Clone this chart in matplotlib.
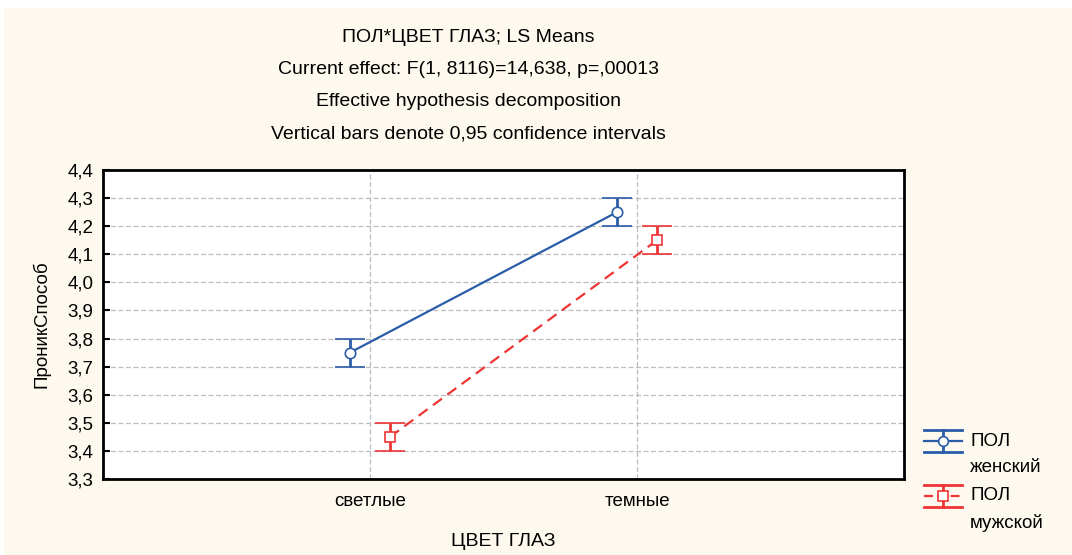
#!/usr/bin/env python3

import matplotlib.pyplot as plt
from matplotlib.patches import Rectangle
from matplotlib.ticker import FuncFormatter

plt.rcParams['font.family'] = ['Liberation Sans', 'DejaVu Sans']

# данные
categories = ['светлые', 'темные']
female_means = [3.75, 4.25]
female_ci = [0.05, 0.05]
male_means = [3.45, 4.15]
male_ci = [0.05, 0.05]
legend_labels = [('ПОЛ', 'женский'), ('ПОЛ', 'мужской')]
titles = ['ПОЛ*ЦВЕТ ГЛАЗ; LS Means',
          'Current effect: F(1, 8116)=14,638, p=,00013',
          'Effective hypothesis decomposition',
          'Vertical bars denote 0,95 confidence intervals']

blue = '#2a5ca8'
red = '#ee3535'
cream = '#fdf9ee'
W, H = 1072, 555


def legend_entry(lax, y, color, marker, ls, text):
    # значок как в Statistica: две широкие "шапки" и стержень
    x0, x1, xc = 924, 962, 943
    lax.plot([x0, x1], [y - 11, y - 11], color=color, lw=2)
    lax.plot([x0, x1], [y + 11, y + 11], color=color, lw=2)
    lax.plot([xc, xc], [y - 11, y + 11], color=color, lw=2)
    lax.plot([x0, x1], [y, y], color=color, lw=1.6, ls=ls)
    lax.plot([xc], [y], marker=marker, ms=7 if marker == 'o' else 6.5,
             mfc='white', mec=color, mew=1.2, ls='none')
    lax.text(970, y, text[0], ha='left', va='center', fontsize=13.5)
    lax.text(970, y + 27, text[1], ha='left', va='center', fontsize=13.5)


def main():
    fig = plt.figure(figsize=(W / 100, H / 100), dpi=100, facecolor='white')
    fig.patches.append(Rectangle((4 / W, 0), 1, 1 - 8 / H,
                                 transform=fig.transFigure, facecolor=cream,
                                 edgecolor='none', zorder=-10))

    ax = fig.add_axes([103 / W, 76 / H, 801 / W, 309 / H])
    ax.set_facecolor('white')

    xs = list(range(len(categories)))
    off = 0.075
    xf = [x - off for x in xs]
    xm = [x + off for x in xs]

    ax.errorbar(xf, female_means, yerr=female_ci, color=blue, lw=1.6,
                marker='o', ms=7.5, mfc='white', mec=blue, mew=1.2,
                capsize=10.5, capthick=2, elinewidth=2, zorder=3)
    hm = ax.errorbar(xm, male_means, yerr=male_ci, color=red, lw=1.6, ls=(0, (5, 3)),
                     marker='s', ms=6.5, mfc='white', mec=red, mew=1.2,
                     capsize=10.5, capthick=2, elinewidth=2, zorder=3)
    hm[2][0].set_linestyle('-')

    ax.set_xlim(-1.0, 2.0)
    ax.set_ylim(3.3, 4.4)
    ax.set_yticks([3.3 + 0.1 * i for i in range(12)])
    ax.yaxis.set_major_formatter(FuncFormatter(lambda v, p: f'{v:.1f}'.replace('.', ',')))
    ax.set_xticks(xs)
    ax.set_xticklabels(categories)
    ax.tick_params(axis='y', labelsize=13.5, length=5, width=1.5, direction='in', pad=7)
    ax.tick_params(axis='x', labelsize=13.5, length=0, pad=10)
    ax.grid(True, color='#bdbdbd', ls=(0, (4, 2)), lw=0.9)
    for s in ax.spines.values():
        s.set_linewidth(2)

    ax.set_xlabel('ЦВЕТ ГЛАЗ', fontsize=14, labelpad=17)
    ax.set_ylabel('ПроникСпособ', fontsize=13.5, labelpad=12)

    for i, t in enumerate(titles):
        fig.text(468 / W, 1 - (38 + 32 * i) / H, t, ha='center', va='center',
                 fontsize=14)

    # легенда справа
    lax = fig.add_axes([0, 0, 1, 1], facecolor='none')
    lax.set_xlim(0, W)
    lax.set_ylim(H, 0)
    lax.axis('off')
    legend_entry(lax, 441, blue, 'o', '-', legend_labels[0])
    legend_entry(lax, 496, red, 's', (0, (4, 2)), legend_labels[1])

    fig.savefig('out.png', dpi=100, facecolor=fig.get_facecolor())


if __name__ == "__main__":
    main()
